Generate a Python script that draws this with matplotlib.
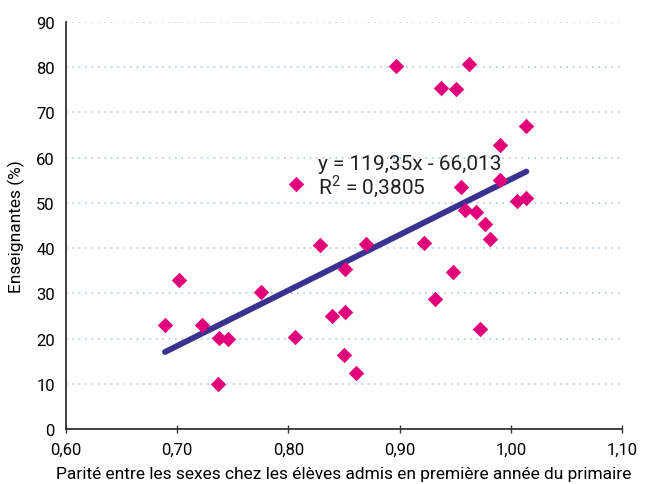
import matplotlib
matplotlib.use("Agg")
import matplotlib.pyplot as plt
import numpy as np

# ---------------------------------------------------------------------------
# Data
# ---------------------------------------------------------------------------

parite = [
    0.689, 0.702, 0.722, 0.738, 0.746, 0.737, 0.775, 0.806, 0.807, 0.828,
    0.839, 0.851, 0.851, 0.850, 0.861, 0.870, 0.897, 0.922, 0.932, 0.937,
    0.951, 0.962, 0.948, 0.955, 0.959, 0.969, 0.977, 0.981, 0.972, 0.990,
    0.990, 1.006, 1.014, 1.014,
]
enseignantes = [
    23.0, 33.0, 22.9, 20.1, 19.9, 10.0, 30.3, 20.4, 54.1, 40.6,
    24.9, 35.4, 25.8, 16.4, 12.4, 40.8, 80.3, 41.1, 28.8, 75.4,
    75.2, 80.8, 34.8, 53.6, 48.5, 48.0, 45.3, 42.0, 22.1, 62.7,
    55.1, 50.4, 51.1, 66.9,
]

x_ticks = [0.60, 0.70, 0.80, 0.90, 1.00, 1.10]
x_tick_labels = ["0,60", "0,70", "0,80", "0,90", "1,00", "1,10"]
y_ticks = list(range(0, 100, 10))

equation_text = "y = 119,35x - 66,013"
r2_text = "R$^2$ = 0,3805"

MARKER_COLOR = "#E2007A"
LINE_COLOR = "#3A3290"
GRID_COLOR = "#9EC3DE"
AXIS_COLOR = "#333333"
FONT = "Roboto"

plt.rcParams["font.family"] = [FONT, "DejaVu Sans"]
plt.rcParams["mathtext.fontset"] = "custom"
plt.rcParams["mathtext.rm"] = FONT

fig = plt.figure(figsize=(6.47, 4.85), dpi=100)
ax = fig.add_axes([66 / 647, 55 / 485, 556 / 647, 407 / 485])

# linear trend fitted on the points
x = np.array(parite)
y = np.array(enseignantes)
slope, intercept = np.polyfit(x, y, 1)
xs = np.array([x.min(), x.max()])
ax.plot(xs, slope * xs + intercept, color=LINE_COLOR, lw=4.2,
        solid_capstyle="round", zorder=2)

ax.scatter(x, y, marker="D", s=62, color=MARKER_COLOR, linewidths=0,
           zorder=3)

ax.set_xlim(0.60, 1.10)
ax.set_ylim(0, 90)
ax.set_xticks(x_ticks)
ax.set_xticklabels(x_tick_labels)
ax.set_yticks(y_ticks)

for v in y_ticks[1:]:
    ax.axhline(v, color=GRID_COLOR, lw=1.1, ls=(0, (1, 3.2)), zorder=1)

for side in ("top", "right"):
    ax.spines[side].set_visible(False)
for side in ("left", "bottom"):
    ax.spines[side].set_color(AXIS_COLOR)
    ax.spines[side].set_linewidth(1.3)

ax.tick_params(axis="x", direction="inout", length=6, width=1,
               color=AXIS_COLOR, labelsize=12, pad=6)
ax.tick_params(axis="y", length=0, labelsize=12, pad=8)

ax.set_xlabel("Parité entre les sexes chez les élèves admis en première année du primaire",
              fontsize=12.5, labelpad=7)
ax.set_ylabel("Enseignantes (%)", fontsize=12.5, labelpad=8)

ax.text(0.827, 57.5, equation_text, fontsize=15, color="#222222",
        va="baseline", ha="left")
ax.text(0.827, 52.0, r2_text, fontsize=15, color="#222222",
        va="baseline", ha="left")

fig.savefig("out.png", dpi=100)
